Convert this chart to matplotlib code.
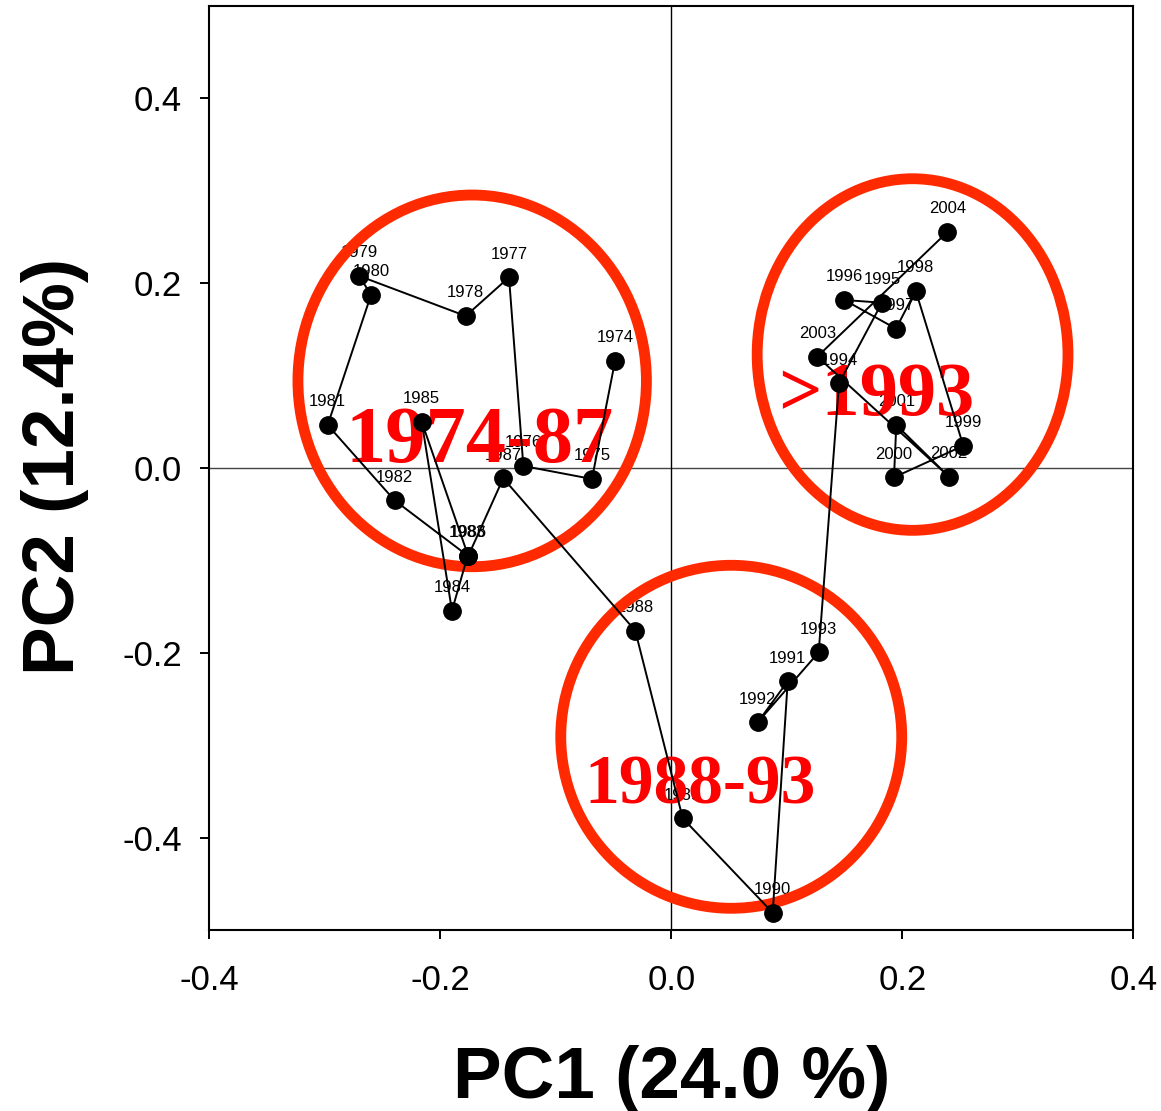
import matplotlib
matplotlib.use("Agg")
import matplotlib.pyplot as plt
from matplotlib.patches import Ellipse

# PCA scores per year
YEARS = list(range(1974, 2005))
PC1 = [-0.0487, -0.0687, -0.1281, -0.1405, -0.1780, -0.2701, -0.2600, -0.2975,
       -0.2396, -0.1763, -0.1899, -0.2161, -0.1758, -0.1455, -0.0312, 0.0099,
       0.0878, 0.1008, 0.0748, 0.1276, 0.1452, 0.1824, 0.1498, 0.1945,
       0.2116, 0.2528, 0.1928, 0.1948, 0.2404, 0.1264, 0.2390]
PC2 = [0.1158, -0.0119, 0.0022, 0.2064, 0.1645, 0.2078, 0.1872, 0.0465,
       -0.0350, -0.0949, -0.1544, 0.0501, -0.0952, -0.0111, -0.1761, -0.3791,
       -0.4813, -0.2308, -0.2752, -0.1995, 0.0917, 0.1789, 0.1818, 0.1508,
       0.1919, 0.0241, -0.0101, 0.0465, -0.0094, 0.1205, 0.2554]

# period groups: label, ellipse centre / size, label anchor (baseline centre), font size
GROUP_NAMES = ["1974-87", "1988-93", ">1993"]
GROUP_ELLIPSES = [(-0.1724, 0.0943, 0.3017, 0.4023),
                  (0.0519, -0.2909, 0.2952, 0.3712),
                  (0.2089, 0.1228, 0.2691, 0.3805)]
GROUP_TEXT_POS = [(-0.1656, 0.0068), (0.0246, -0.3626), (0.1771, 0.0574)]
GROUP_TEXT_SIZE = [58, 50, 55]

XTICKS = [-0.4, -0.2, 0.0, 0.2, 0.4]
YTICKS = [-0.4, -0.2, 0.0, 0.2, 0.4]

SANS = ["Liberation Sans", "DejaVu Sans"]
SERIF = ["Liberation Serif", "DejaVu Serif"]
RING_COLOR = "#ff2a00"

fig = plt.figure(figsize=(11.61, 11.11), dpi=100)
ax = fig.add_axes([209.3 / 1161, 1 - 930 / 1111, 924 / 1161, 924 / 1111])

ax.set_xlim(-0.4, 0.4)
ax.set_ylim(-0.5, 0.5)

# zero lines
ax.axhline(0, color="#444444", lw=1.0, zorder=0.5)
ax.axvline(0, color="black", lw=1.0, zorder=0.5)

# year trajectory
ax.plot(PC1, PC2, color="black", lw=1.4, marker="o", ms=12.5,
        mfc="black", mec="black", zorder=4, clip_on=False)

for yr, x, y in zip(YEARS, PC1, PC2):
    ax.annotate(str(yr), (x, y), xytext=(0, 13.5), textcoords="offset points",
                ha="center", va="baseline", fontsize=12, family=SANS, zorder=1)

# group rings and labels
for name, (cx, cy, w, h), (tx, ty), fs in zip(GROUP_NAMES, GROUP_ELLIPSES,
                                             GROUP_TEXT_POS, GROUP_TEXT_SIZE):
    ax.add_patch(Ellipse((cx, cy), w, h, fill=False, ec=RING_COLOR, lw=7.8, zorder=2))
    ax.text(tx, ty, name, color="#ff0000", fontsize=fs, fontweight="bold",
            family=SERIF, ha="center", va="baseline", zorder=3)

ax.set_xticks(XTICKS)
ax.set_yticks(YTICKS)
ax.set_xticklabels([f"{v:.1f}" for v in XTICKS])
ax.set_yticklabels([f"{v:.1f}" for v in YTICKS])
ax.tick_params(direction="out", length=6.5, width=1.4, labelsize=25,
               top=False, right=False)
ax.tick_params(axis="x", pad=18)
ax.tick_params(axis="y", pad=13)
for lab in ax.get_xticklabels() + ax.get_yticklabels():
    lab.set_family(SANS)
for sp in ax.spines.values():
    sp.set_linewidth(1.5)

fig.text(671.3 / 1161, 1 - 1098 / 1111, "PC1 (24.0 %)", ha="center", va="baseline",
         fontsize=52.5, fontweight="bold", family=SANS)
fig.text(55 / 1161, 1 - 466 / 1111, "PC2 (12.4%)", ha="center", va="center",
         rotation=90, fontsize=52.5, fontweight="bold", family=SANS)

fig.savefig("out.png", dpi=100)
